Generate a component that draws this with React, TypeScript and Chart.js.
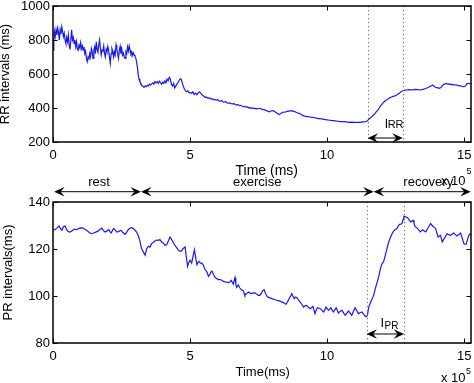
import React, { useEffect, useRef } from 'react';
import { Chart, registerables } from 'chart.js';
Chart.register(...registerables);

const FONT = '"Liberation Sans", Arial, Helvetica, sans-serif';
const LINE_COLOR = 'rgb(25,25,235)';

// time in units of 1e5 ms
const rrTime = [
  0.00, 0.03, 0.05, 0.08, 0.11, 0.14, 0.17, 0.20, 0.23, 0.26, 0.29, 0.32, 0.35, 0.38, 0.41, 0.44, 0.47, 0.50, 0.53, 0.56,
  0.59, 0.62, 0.65, 0.68, 0.71, 0.74, 0.77, 0.80, 0.83, 0.86, 0.89, 0.92, 0.95, 0.98, 1.01, 1.04, 1.07, 1.10, 1.13, 1.16,
  1.19, 1.22, 1.25, 1.28, 1.31, 1.34, 1.37, 1.40, 1.43, 1.46, 1.49, 1.52, 1.55, 1.58, 1.61, 1.64, 1.67, 1.70, 1.73, 1.76,
  1.79, 1.82, 1.85, 1.88, 1.91, 1.94, 1.97, 2.00, 2.03, 2.06, 2.09, 2.12, 2.15, 2.18, 2.21, 2.24, 2.27, 2.30, 2.33, 2.36,
  2.39, 2.42, 2.45, 2.48, 2.51, 2.54, 2.57, 2.60, 2.63, 2.66, 2.69, 2.72, 2.75, 2.78, 2.81, 2.84, 2.87, 2.90, 2.93, 2.96,
  2.99, 3.02, 3.05, 3.08, 3.11, 3.14, 3.17, 3.20, 3.24, 3.28, 3.32, 3.36, 3.40, 3.44, 3.48, 3.52, 3.56, 3.60, 3.64, 3.68,
  3.72, 3.76, 3.80, 3.84, 3.88, 3.92, 3.96, 4.00, 4.04, 4.08, 4.12, 4.16, 4.20, 4.24, 4.28, 4.32, 4.36, 4.40, 4.44, 4.48,
  4.52, 4.56, 4.60, 4.64, 4.68, 4.72, 4.76, 4.80, 4.84, 4.88, 4.92, 4.96, 5.00, 5.05, 5.10, 5.15, 5.20, 5.25, 5.30, 5.35,
  5.40, 5.45, 5.50, 5.55, 5.60, 5.65, 5.70, 5.75, 5.80, 5.85, 5.90, 5.95, 6.00, 6.05, 6.10, 6.15, 6.20, 6.25, 6.30, 6.35,
  6.40, 6.45, 6.50, 6.55, 6.60, 6.65, 6.70, 6.75, 6.80, 6.85, 6.90, 6.95, 7.00, 7.05, 7.10, 7.15, 7.20, 7.25, 7.30, 7.35,
  7.40, 7.45, 7.50, 7.55, 7.60, 7.65, 7.70, 7.75, 7.80, 7.85, 7.90, 7.95, 8.00, 8.05, 8.10, 8.15, 8.20, 8.25, 8.30, 8.35,
  8.40, 8.45, 8.50, 8.55, 8.60, 8.65, 8.70, 8.75, 8.80, 8.85, 8.90, 8.95, 9.00, 9.05, 9.10, 9.15, 9.20, 9.25, 9.30, 9.40,
  9.50, 9.60, 9.70, 9.80, 9.90, 10.00, 10.10, 10.20, 10.30, 10.40, 10.50, 10.60, 10.70, 10.80, 10.90, 11.00, 11.10, 11.20, 11.30, 11.40,
  11.45, 11.50, 11.55, 11.60, 11.65, 11.70, 11.75, 11.80, 11.85, 11.90, 11.95, 12.00, 12.05, 12.10, 12.15, 12.20, 12.25, 12.30, 12.35, 12.40,
  12.45, 12.50, 12.55, 12.60, 12.65, 12.70, 12.75, 12.80, 12.90, 13.00, 13.10, 13.20, 13.30, 13.40, 13.50, 13.60, 13.70, 13.75, 13.80, 13.85,
  13.90, 13.95, 14.00, 14.05, 14.10, 14.15, 14.20, 14.25, 14.30, 14.35, 14.40, 14.45, 14.50, 14.55, 14.60, 14.65, 14.70, 14.75, 14.80, 14.85,
  14.90, 14.95, 15.00, 15.05, 15.10, 15.15, 15.20, 15.25,
];
const rrValue = [
  740, 800, 850, 820, 860, 830, 870, 845, 800, 860, 835, 878, 850, 820, 840, 800, 780, 815, 790, 830,
  770, 745, 800, 860, 800, 815, 780, 800, 760, 790, 745, 740, 770, 755, 785, 750, 765, 740, 760, 720,
  735, 690, 672, 700, 690, 720, 700, 750, 730, 692, 740, 760, 720, 790, 745, 730, 770, 800, 750, 712,
  740, 735, 765, 720, 700, 745, 730, 762, 740, 700, 663, 720, 750, 735, 700, 730, 712, 770, 745, 720,
  692, 740, 762, 720, 745, 710, 722, 700, 692, 730, 720, 760, 735, 765, 740, 720, 730, 710, 725, 712,
  705, 695, 670, 640, 595, 570, 555, 545, 532, 528, 522, 530, 525, 534, 530, 540, 535, 542, 548, 540,
  555, 548, 555, 545, 558, 550, 540, 552, 545, 560, 548, 570, 560, 580, 570, 540, 530, 545, 518, 530,
  540, 550, 562, 572, 568, 545, 525, 510, 500, 496, 502, 490, 492, 486, 495, 480, 488, 478, 490, 495,
  484, 475, 470, 462, 465, 457, 460, 452, 455, 448, 450, 446, 450, 442, 440, 444, 436, 434, 438, 430,
  428, 430, 425, 424, 426, 420, 418, 420, 414, 416, 410, 408, 410, 405, 406, 400, 402, 398, 400, 396,
  398, 395, 397, 398, 394, 390, 392, 386, 384, 380, 378, 382, 385, 383, 378, 372, 366, 362, 366, 372,
  376, 375, 378, 380, 382, 383, 384, 382, 380, 376, 372, 370, 368, 362, 358, 354, 352, 349, 350, 346,
  344, 340, 338, 336, 333, 330, 328, 326, 324, 322, 320, 320, 318, 316, 317, 316, 316, 315, 318, 320,
  322, 330, 338, 345, 352, 360, 368, 378, 388, 400, 412, 422, 432, 440, 446, 452, 456, 462, 465, 468,
  470, 474, 478, 484, 488, 496, 500, 504, 506, 508, 506, 510, 508, 506, 510, 515, 522, 526, 530, 535,
  528, 522, 520, 518, 516, 520, 530, 538, 542, 545, 540, 542, 538, 540, 535, 538, 534, 535, 530, 532,
  528, 526, 525, 530, 542, 545, 544, 540,
];

const prTime = [
  0.00, 0.08, 0.15, 0.22, 0.28, 0.33, 0.38, 0.44, 0.50, 0.56, 0.62, 0.70, 0.78, 0.86, 0.94, 1.02, 1.10, 1.18, 1.25, 1.32,
  1.40, 1.48, 1.56, 1.64, 1.72, 1.78, 1.84, 1.90, 1.96, 2.03, 2.08, 2.12, 2.17, 2.21, 2.27, 2.33, 2.40, 2.48, 2.55, 2.63,
  2.69, 2.75, 2.82, 2.87, 2.93, 2.99, 3.05, 3.11, 3.17, 3.23, 3.29, 3.36, 3.42, 3.48, 3.54, 3.60, 3.66, 3.72, 3.78, 3.84,
  3.90, 3.96, 4.02, 4.09, 4.15, 4.21, 4.27, 4.33, 4.39, 4.45, 4.51, 4.57, 4.63, 4.69, 4.75, 4.82, 4.86, 4.91, 4.96, 5.00,
  5.06, 5.11, 5.16, 5.21, 5.25, 5.29, 5.33, 5.38, 5.43, 5.48, 5.52, 5.56, 5.60, 5.64, 5.67, 5.72, 5.76, 5.80, 5.86, 5.92,
  5.98, 6.04, 6.10, 6.16, 6.22, 6.28, 6.34, 6.40, 6.45, 6.50, 6.55, 6.58, 6.61, 6.64, 6.67, 6.70, 6.73, 6.76, 6.81, 6.86,
  6.90, 6.94, 6.97, 7.00, 7.06, 7.13, 7.19, 7.25, 7.31, 7.37, 7.43, 7.49, 7.55, 7.60, 7.65, 7.70, 7.75, 7.80, 7.86, 7.92,
  7.98, 8.04, 8.10, 8.16, 8.22, 8.28, 8.34, 8.40, 8.45, 8.50, 8.56, 8.62, 8.67, 8.71, 8.75, 8.80, 8.85, 8.90, 8.95, 9.01,
  9.07, 9.14, 9.20, 9.26, 9.32, 9.38, 9.43, 9.48, 9.52, 9.56, 9.60, 9.65, 9.70, 9.75, 9.81, 9.87, 9.92, 9.96, 10.00, 10.05,
  10.10, 10.14, 10.18, 10.23, 10.28, 10.33, 10.37, 10.41, 10.47, 10.54, 10.60, 10.66, 10.72, 10.78, 10.84, 10.90, 10.96, 11.02, 11.08, 11.14,
  11.20, 11.27, 11.33, 11.39, 11.43, 11.47, 11.52, 11.57, 11.62, 11.66, 11.70, 11.76, 11.82, 11.88, 11.93, 11.98, 12.02, 12.06, 12.12, 12.17,
  12.21, 12.25, 12.31, 12.37, 12.42, 12.47, 12.51, 12.55, 12.60, 12.64, 12.69, 12.73, 12.77, 12.80, 12.86, 12.93, 12.99, 13.05, 13.10, 13.14,
  13.17, 13.20, 13.25, 13.30, 13.35, 13.40, 13.44, 13.48, 13.54, 13.60, 13.66, 13.72, 13.78, 13.82, 13.86, 13.91, 13.96, 14.00, 14.05, 14.10,
  14.14, 14.17, 14.20, 14.26, 14.32, 14.38, 14.44, 14.50, 14.56, 14.62, 14.68, 14.74, 14.80, 14.87, 14.93, 14.99, 15.03, 15.07, 15.12, 15.17,
  15.24,
];
const prValue = [
  128.0, 128.3, 129.0, 129.8, 128.6, 128.0, 129.5, 129.8, 128.2, 127.4, 127.2, 127.8, 128.4, 128.2, 128.8, 129.0, 128.9, 128.2, 127.8, 127.0,
  126.5, 126.8, 127.2, 127.6, 128.4, 128.9, 127.8, 127.2, 127.6, 128.3, 127.4, 126.8, 127.9, 128.7, 128.0, 127.2, 127.5, 128.0, 127.0, 126.2,
  127.2, 128.3, 128.9, 129.1, 128.7, 128.0, 127.2, 125.8, 123.5, 120.2, 118.9, 117.3, 120.2, 121.2, 120.8, 122.3, 122.8, 123.4, 123.8, 123.7,
  124.0, 123.0, 122.6, 121.6, 121.8, 123.5, 125.1, 124.0, 122.8, 121.5, 120.6, 119.6, 119.0, 119.2, 120.2, 120.9, 117.0, 112.6, 114.4, 115.2,
  114.0, 117.0, 119.7, 116.0, 113.3, 114.2, 114.7, 114.0, 114.0, 113.2, 112.0, 111.0, 110.6, 109.4, 108.4, 109.2, 110.2, 110.6, 109.0, 107.8,
  107.4, 107.0, 107.0, 106.7, 106.2, 106.0, 105.9, 105.6, 106.0, 106.7, 105.6, 105.0, 106.5, 107.8, 105.0, 103.7, 104.2, 104.7, 103.5, 102.8,
  102.5, 102.3, 101.2, 100.3, 101.0, 101.7, 101.2, 101.0, 101.3, 101.3, 100.8, 100.3, 100.3, 101.2, 102.3, 102.7, 101.2, 100.0, 99.4, 99.2,
  98.9, 98.7, 98.4, 98.2, 98.0, 97.8, 97.5, 97.2, 96.8, 96.5, 97.6, 98.9, 100.0, 101.0, 100.0, 98.9, 99.6, 99.3, 98.4, 97.5,
  96.6, 95.3, 95.8, 96.0, 95.2, 94.6, 95.0, 95.6, 94.0, 92.5, 94.0, 95.0, 94.8, 94.6, 93.9, 93.2, 94.2, 95.3, 94.6, 93.9,
  94.5, 95.0, 94.1, 93.2, 94.1, 95.0, 93.9, 92.8, 93.4, 93.9, 92.8, 91.8, 92.7, 93.6, 92.7, 91.8, 93.4, 95.0, 93.8, 92.5,
  92.9, 93.2, 92.3, 91.4, 91.2, 91.8, 95.3, 96.8, 98.2, 99.2, 100.3, 103.2, 105.6, 108.1, 110.8, 113.1, 114.0, 114.5, 117.2, 119.4,
  121.4, 123.0, 124.9, 126.5, 127.5, 128.2, 128.4, 128.7, 129.8, 130.5, 130.6, 130.8, 132.5, 133.9, 133.7, 133.4, 132.4, 131.5, 131.9, 132.2,
  131.0, 129.7, 129.2, 128.7, 128.0, 127.3, 127.7, 128.2, 127.7, 127.3, 128.5, 129.8, 130.8, 130.2, 129.7, 129.2, 128.7, 127.0, 125.1, 125.5,
  125.8, 124.4, 123.0, 124.2, 125.4, 126.5, 126.1, 125.8, 126.3, 126.8, 126.1, 125.5, 126.1, 126.8, 124.6, 122.3, 122.1, 122.0, 123.9, 125.8,
  126.8,
];

const xTicks = [0, 5, 10, 15];
const rrTicks = [200, 400, 600, 800, 1000];
const prTicks = [80, 100, 120, 140];
const X_MAX = 15.25;

const phaseLabels = ['rest', 'exercise', 'recovery'];
const phaseBounds = [0.04, 3.21, 11.7, 15.24];
const phaseLabelX = [1.68, 7.45, 13.69];

const rrMarkers = [11.48, 12.76];
const prMarkers = [11.44, 12.81];

function arrowHead(ctx: CanvasRenderingContext2D, tip: number, y: number, dir: number) {
  ctx.beginPath();
  ctx.moveTo(tip, y);
  ctx.lineTo(tip - dir * 10.5, y - 4.8);
  ctx.lineTo(tip - dir * 6.5, y);
  ctx.lineTo(tip - dir * 10.5, y + 4.8);
  ctx.closePath();
  ctx.fill();
}

function doubleArrow(ctx: CanvasRenderingContext2D, x1: number, x2: number, y: number) {
  ctx.save();
  ctx.strokeStyle = '#000';
  ctx.fillStyle = '#000';
  ctx.lineWidth = 1;
  ctx.beginPath();
  ctx.moveTo(x1 + 3, y);
  ctx.lineTo(x2 - 3, y);
  ctx.stroke();
  arrowHead(ctx, x1, y, -1);
  arrowHead(ctx, x2, y, 1);
  ctx.restore();
}

function txt(ctx: CanvasRenderingContext2D, s: string, x: number, y: number, size: number, align: CanvasTextAlign) {
  ctx.font = `${size}px ${FONT}`;
  ctx.textAlign = align;
  ctx.textBaseline = 'alphabetic';
  ctx.fillStyle = '#000';
  ctx.fillText(s, x, y);
}

function makeFramePlugin(cfg: {
  markers: number[];
  yTicks: number[];
  yTitle: string;
  yTitleX: number;
  extra: (chart: any) => void;
}) {
  return {
    id: 'matlabFrame',
    afterDraw(chart: any) {
      const { ctx, chartArea: a, scales } = chart;
      const xs = scales.x;
      const ys = scales.y;
      ctx.save();
      // dotted markers
      ctx.strokeStyle = '#6a6a6a';
      ctx.lineWidth = 1;
      ctx.setLineDash([1.2, 2.8]);
      for (const m of cfg.markers) {
        const p = Math.round(xs.getPixelForValue(m)) + 0.5;
        ctx.beginPath();
        ctx.moveTo(p, a.top);
        ctx.lineTo(p, a.bottom);
        ctx.stroke();
      }
      ctx.setLineDash([]);
      // box
      ctx.strokeStyle = '#000';
      ctx.lineWidth = 1.5;
      ctx.strokeRect(a.left, a.top, a.right - a.left, a.bottom - a.top);
      // inward ticks
      ctx.lineWidth = 1;
      ctx.beginPath();
      for (const v of xTicks) {
        const p = Math.round(xs.getPixelForValue(v)) + 0.5;
        ctx.moveTo(p, a.bottom);
        ctx.lineTo(p, a.bottom - 4.5);
        ctx.moveTo(p, a.top);
        ctx.lineTo(p, a.top + 4.5);
      }
      for (const v of cfg.yTicks) {
        const p = Math.round(ys.getPixelForValue(v)) + 0.5;
        ctx.moveTo(a.left, p);
        ctx.lineTo(a.left + 4.5, p);
        ctx.moveTo(a.right, p);
        ctx.lineTo(a.right - 4.5, p);
      }
      ctx.stroke();
      // y title
      ctx.save();
      ctx.translate(cfg.yTitleX, (a.top + a.bottom) / 2);
      ctx.rotate(-Math.PI / 2);
      txt(ctx, cfg.yTitle, 0, 0, 13, 'center');
      ctx.restore();
      cfg.extra(chart);
      ctx.restore();
    },
  };
}

function makeOptions(yMin: number, yMax: number, yTicks: number[], pad: any) {
  const zeroPad = (s: any) => {
    s.paddingLeft = 0;
    s.paddingRight = 0;
    s.paddingTop = 0;
    s.paddingBottom = 0;
  };
  return {
    animation: false,
    responsive: false,
    maintainAspectRatio: false,
    layout: { padding: pad },
    plugins: { legend: { display: false }, tooltip: { enabled: false }, title: { display: false } },
    elements: { point: { radius: 0 } },
    scales: {
      x: {
        type: 'linear',
        min: 0,
        max: X_MAX,
        grid: { display: false, drawTicks: false },
        border: { display: false },
        ticks: {
          color: '#000',
          padding: 6,
          maxRotation: 0,
          autoSkip: false,
          font: { family: FONT, size: 13 },
          callback: (v: any) => String(v),
        },
        afterBuildTicks: (s: any) => {
          s.ticks = xTicks.map((v) => ({ value: v }));
        },
        afterFit: (s: any) => {
          s.height = 30;
          zeroPad(s);
        },
      },
      y: {
        type: 'linear',
        min: yMin,
        max: yMax,
        grid: { display: false, drawTicks: false },
        border: { display: false },
        ticks: {
          color: '#000',
          padding: 3,
          autoSkip: false,
          font: { family: FONT, size: 13, lineHeight: 1 },
          callback: (v: any) => String(v),
        },
        afterBuildTicks: (s: any) => {
          s.ticks = yTicks.map((v) => ({ value: v }));
        },
        afterFit: (s: any) => {
          s.width = 53;
          zeroPad(s);
        },
      },
    },
  };
}

export default function App() {
  const topRef = useRef<HTMLCanvasElement>(null);
  const botRef = useRef<HTMLCanvasElement>(null);

  useEffect(() => {
    const rrData = rrTime.map((t, i) => ({ x: t, y: rrValue[i] }));
    const prData = prTime.map((t, i) => ({ x: t, y: prValue[i] }));

    const topPlugin = makeFramePlugin({
      markers: rrMarkers,
      yTicks: rrTicks,
      yTitle: 'RR intervals (ms)',
      yTitleX: 9,
      extra: (chart: any) => {
        const { ctx, chartArea: a, scales } = chart;
        const xs = scales.x;
        const ys = scales.y;
        const x1 = xs.getPixelForValue(rrMarkers[0]);
        const x2 = xs.getPixelForValue(rrMarkers[1]);
        doubleArrow(ctx, x1, x2, a.bottom - 4);
        txt(ctx, 'I', xs.getPixelForValue(12.1), a.bottom - 14, 12, 'left');
        txt(ctx, 'RR', xs.getPixelForValue(12.1) + 3, a.bottom - 14, 11, 'left');
        txt(ctx, 'Time (ms)', xs.getPixelForValue(7.8), a.bottom + 32.5, 14, 'center');
        txt(ctx, 'x 10', a.right - 5.5, a.bottom + 43, 13, 'right');
        txt(ctx, '5', a.right - 4.5, a.bottom + 32, 9, 'left');
        void ys;
      },
    });

    const botPlugin = makeFramePlugin({
      markers: prMarkers,
      yTicks: prTicks,
      yTitle: 'PR intervals(ms)',
      yTitleX: 12,
      extra: (chart: any) => {
        const { ctx, chartArea: a, scales } = chart;
        const xs = scales.x;
        const x1 = xs.getPixelForValue(prMarkers[0]);
        const x2 = xs.getPixelForValue(prMarkers[1]);
        doubleArrow(ctx, x1, x2, a.bottom - 9);
        txt(ctx, 'I', xs.getPixelForValue(11.95), a.bottom - 16, 13, 'left');
        txt(ctx, 'PR', xs.getPixelForValue(11.95) + 4, a.bottom - 14, 10, 'left');
        txt(ctx, 'Time(ms)', xs.getPixelForValue(7.65), a.bottom + 33, 13, 'center');
        txt(ctx, 'x 10', a.right - 5.5, a.bottom + 39, 13, 'right');
        txt(ctx, '5', a.right - 5, a.bottom + 30.5, 9, 'left');
        // phase arrows above the plot
        const ay = a.top - 10.3;
        for (let i = 0; i < phaseLabels.length; i++) {
          const p1 = xs.getPixelForValue(phaseBounds[i]);
          const p2 = xs.getPixelForValue(phaseBounds[i + 1]);
          doubleArrow(ctx, p1, p2, ay);
          txt(ctx, phaseLabels[i], xs.getPixelForValue(phaseLabelX[i]), a.top - 16.5, 13, 'center');
        }
      },
    });

    const dsStyle = {
      borderColor: LINE_COLOR,
      borderWidth: 1.2,
      pointRadius: 0,
      tension: 0,
      fill: false,
    };

    const top = new Chart(topRef.current as HTMLCanvasElement, {
      type: 'line',
      data: { datasets: [{ data: rrData, ...dsStyle }] },
      options: makeOptions(200, 1000, rrTicks, { left: 0, right: 3, top: 6, bottom: 211 }) as any,
      plugins: [topPlugin],
    });
    const bot = new Chart(botRef.current as HTMLCanvasElement, {
      type: 'line',
      data: { datasets: [{ data: prData, ...dsStyle }] },
      options: makeOptions(80, 140, prTicks, { left: 0, right: 3, top: 202, bottom: 10 }) as any,
      plugins: [botPlugin],
    });
    return () => {
      top.destroy();
      bot.destroy();
    };
  }, []);

  const cstyle: React.CSSProperties = { position: 'absolute', left: 0, top: 0, width: 474, height: 383 };
  return (
    <div style={{ position: 'fixed', left: 0, top: 0, width: 474, height: 383, background: '#fff' }}>
      <canvas ref={botRef} width={474} height={383} style={cstyle} />
      <canvas ref={topRef} width={474} height={383} style={cstyle} />
    </div>
  );
}
